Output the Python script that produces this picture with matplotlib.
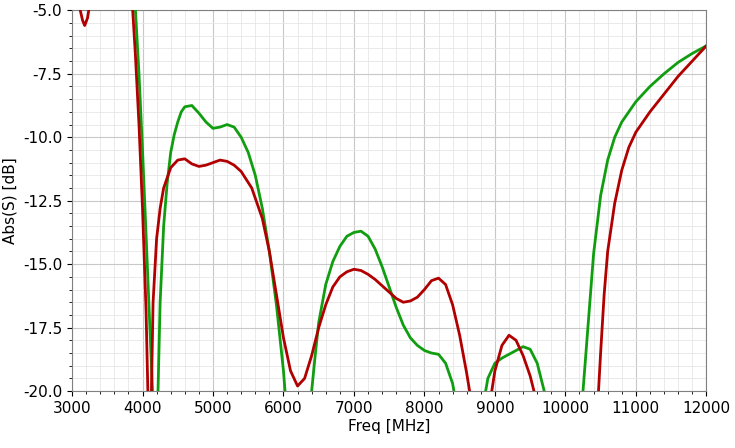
import matplotlib
matplotlib.use("Agg")
import matplotlib.pyplot as plt
from matplotlib.ticker import MultipleLocator, FormatStrFormatter

red_f = [3000,3100,3150,3180,3220,3260,3300, 3800,3850,3900,3950,4000,4050,4080,4100,4120,4150,4200,4250,4300,4400,4500,4600,4700,4800,4900,5000,5100,5200,5300,5400,5550,5700,5800,5900,6000,6100,6200,6300,6400,6500,6600,6700,6800,6900,7000,7100,7200,7300,7400,7500,7600,7700,7800,7900,8000,8100,8200,8300,8400,8500,8600,8700,8800,8900,9000,9100,9200,9300,9400,9500,9600,10400,10450,10500,10550,10600,10700,10800,10900,11000,11200,11400,11600,11800,12000]
red_v = [-3.5,-4.8,-5.4,-5.6,-5.3,-4.6,-3.5, -3.0,-4.5,-6.8,-9.5,-12.8,-16.8,-20.5,-22,-21,-16.5,-14,-12.8,-12.0,-11.2,-10.9,-10.85,-11.05,-11.15,-11.1,-11.0,-10.9,-10.95,-11.1,-11.35,-12.0,-13.2,-14.5,-16.2,-17.9,-19.2,-19.8,-19.5,-18.6,-17.5,-16.6,-15.9,-15.5,-15.3,-15.2,-15.25,-15.4,-15.6,-15.85,-16.1,-16.35,-16.5,-16.45,-16.3,-16.0,-15.65,-15.55,-15.8,-16.6,-17.8,-19.3,-21,-22,-21,-19.2,-18.2,-17.8,-18.0,-18.6,-19.4,-20.5,-22,-21,-18.5,-16.2,-14.5,-12.6,-11.3,-10.4,-9.8,-9.0,-8.3,-7.6,-7.0,-6.4]

grn_f = [3850,3900,3950,4000,4050,4100,4150,4180,4200,4220,4250,4300,4350,4400,4450,4500,4550,4600,4700,4800,4900,5000,5100,5200,5300,5400,5500,5600,5700,5800,5900,6000,6050,6350,6400,6450,6500,6600,6700,6800,6900,7000,7100,7200,7300,7400,7500,7600,7700,7800,7900,8000,8100,8200,8300,8400,8450,8800,8850,8900,9000,9100,9200,9300,9400,9500,9600,9700,9750,10200,10250,10300,10400,10500,10600,10700,10800,10900,11000,11200,11400,11600,11800,12000]
grn_v = [-3.0,-5.0,-7.5,-10.5,-13.8,-17.2,-20.5,-22,-22,-20,-16.5,-13.5,-11.8,-10.6,-9.9,-9.4,-9.0,-8.8,-8.75,-9.05,-9.4,-9.65,-9.6,-9.5,-9.6,-10.0,-10.6,-11.5,-12.8,-14.5,-16.6,-19.2,-21,-21.5,-20,-18.6,-17.3,-15.8,-14.9,-14.3,-13.9,-13.75,-13.7,-13.9,-14.4,-15.1,-15.9,-16.7,-17.4,-17.9,-18.2,-18.4,-18.5,-18.55,-18.9,-19.7,-20.5,-21,-20.3,-19.5,-18.9,-18.7,-18.55,-18.4,-18.25,-18.35,-18.9,-20.0,-21,-22,-20,-18.2,-14.6,-12.3,-10.9,-10.0,-9.4,-9.0,-8.6,-8.0,-7.5,-7.05,-6.7,-6.4]

fig = plt.figure(figsize=(7.35, 4.48), dpi=100)
ax = fig.add_axes([0.098, 0.127, 0.863, 0.85])
ax.plot(grn_f, grn_v, color="#109e10", lw=2, zorder=3)
ax.plot(red_f, red_v, color="#b00000", lw=2, zorder=4)
ax.set_xlim(3000, 12000)
ax.set_ylim(-20, -5)
ax.xaxis.set_major_locator(MultipleLocator(1000))
ax.xaxis.set_minor_locator(MultipleLocator(200))
ax.yaxis.set_major_locator(MultipleLocator(2.5))
ax.yaxis.set_minor_locator(MultipleLocator(0.5))
ax.yaxis.set_major_formatter(FormatStrFormatter("%.1f"))
ax.grid(which="major", color="#c8c8c8", lw=0.8)
ax.grid(which="minor", color="#e6e6e6", lw=0.6)
ax.set_axisbelow(True)
ax.tick_params(labelsize=11)
ax.set_xlabel("Freq [MHz]", fontsize=11, labelpad=2)
ax.set_ylabel("Abs(S) [dB]", fontsize=11)
for s in ax.spines.values():
    s.set_color("#808080")
fig.savefig("out.png")
